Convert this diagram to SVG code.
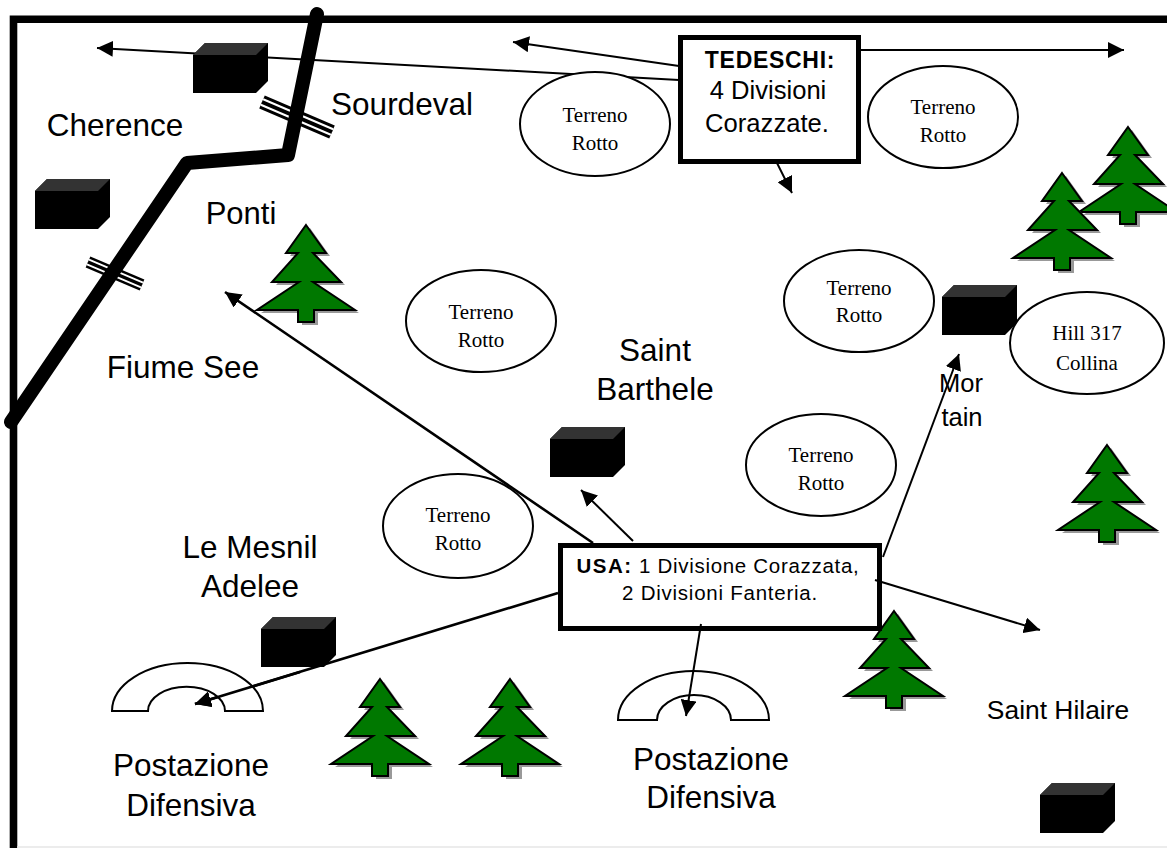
<svg xmlns="http://www.w3.org/2000/svg" width="1167" height="848" viewBox="0 0 1167 848">
<style>
text{font-family:"Liberation Sans",Arial,sans-serif;fill:#000;text-anchor:middle}
.l{font-size:31.500px}
.t{font-family:"Liberation Serif","Times New Roman",serif;font-size:21px}
.el{fill:#fff;stroke:#000;stroke-width:2}
.c{stroke:#000;stroke-width:2;fill:none;marker-end:url(#a)}
.h{stroke-width:2.600}
.arch{fill:#fff;stroke:#000;stroke-width:2}
.box{fill:#fff;stroke:#000;stroke-width:5}
</style>
<defs>
<marker id="a" markerUnits="userSpaceOnUse" markerWidth="18" markerHeight="16" refX="16" refY="8" orient="auto"><path d="M0 0L16 8L0 16Z" fill="#000"/></marker>
<g id="tree">
<path d="M0 0L20 28H7L35 57H7L49 85H8V97H-8V85H-49L-7 57H-34L-8 28H-20Z" fill="#999" transform="translate(4,3)"/>
<path d="M0 0L20 28H7L35 57H7L49 85H8V97H-8V85H-49L-7 57H-34L-8 28H-20Z" fill="#007800" stroke="#000" stroke-width="2"/>
</g>
<g id="block">
<path d="M0 12L12 0H75V38L63 50H0Z" fill="#000"/>
<path d="M0 12L12 0H75L63 12Z" fill="#333"/>
</g>
</defs>
<g id="frame"><path d="M13.500 848V19.300H1167" fill="none" stroke="#000" stroke-width="7.600"/><path d="M17 847H1167" stroke="#e6e6e6" stroke-width="1.500"/></g>
<g id="connectors">
<path class="c" d="M679 80L97 48"/>
<path class="c" d="M679 66L513 42"/>
<path class="c" d="M860 50H1124"/>
<path class="c" d="M777 163L792 193"/>
<path class="c h" d="M593 543L225 292"/>
<path class="c" d="M633 541L581 490"/>
<path class="c" d="M883 557L959 354"/>
<path class="c h" d="M558 593L195 704"/>
</g>
<g id="block1"><use href="#block" x="193" y="43"/></g>
<g id="block2"><use href="#block" x="35" y="179"/></g>
<g id="block3"><use href="#block" x="942" y="285"/></g>
<g id="block4"><use href="#block" x="550" y="427"/></g>
<g id="block5"><use href="#block" x="261" y="617"/></g>
<g id="block6"><use href="#block" x="1040" y="783"/></g>
<g id="bridge1"><path d="M262 102L332 132" stroke="#000" stroke-width="14"/><path d="M262 102L332 132" stroke="#fff" stroke-width="8"/><path d="M262 102L332 132" stroke="#000" stroke-width="4"/></g>
<g id="bridge2"><path d="M88 262L142 285" stroke="#000" stroke-width="12"/><path d="M88 262L142 285" stroke="#fff" stroke-width="7"/><path d="M88 262L142 285" stroke="#000" stroke-width="3.500"/></g>
<g id="river"><path d="M317 14L288 155L187 163L11 422" fill="none" stroke="#000" stroke-width="14" stroke-linecap="round" stroke-linejoin="round"/></g>
<g id="tree1"><use href="#tree" x="306" y="225"/></g>
<g id="tree2"><use href="#tree" x="1128" y="127"/></g>
<g id="tree3"><use href="#tree" x="1062" y="173"/></g>
<g id="tree4"><use href="#tree" x="1107" y="445"/></g>
<g id="tree5"><use href="#tree" x="894" y="611"/></g>
<g id="tree6"><use href="#tree" x="380" y="679"/></g>
<g id="tree7"><use href="#tree" x="510" y="679"/></g>
<g id="e1"><ellipse class="el" cx="595" cy="124" rx="75" ry="52"/><text class="t" x="595" y="122">Terreno</text><text class="t" x="595" y="150">Rotto</text></g>
<g id="e2"><ellipse class="el" cx="943" cy="117" rx="75" ry="51"/><text class="t" x="943" y="114">Terreno</text><text class="t" x="943" y="142">Rotto</text></g>
<g id="e3"><ellipse class="el" cx="481" cy="321" rx="75" ry="51"/><text class="t" x="481" y="319">Terreno</text><text class="t" x="481" y="347">Rotto</text></g>
<g id="e4"><ellipse class="el" cx="859" cy="301" rx="75" ry="51"/><text class="t" x="859" y="295">Terreno</text><text class="t" x="859" y="322">Rotto</text></g>
<g id="e5"><ellipse class="el" cx="821" cy="465" rx="75" ry="51"/><text class="t" x="821" y="462">Terreno</text><text class="t" x="821" y="490">Rotto</text></g>
<g id="e6"><ellipse class="el" cx="458" cy="526" rx="75" ry="52"/><text class="t" x="458" y="522">Terreno</text><text class="t" x="458" y="550">Rotto</text></g>
<g id="hill"><ellipse class="el" cx="1087" cy="343" rx="77" ry="51"/><text class="t" x="1087" y="340">Hill 317</text><text class="t" x="1087" y="370">Collina</text></g>
<g id="arch1"><path class="arch" d="M112 711A75.500 48 0 0 1 263 711H225A38 24 0 0 0 148 711Z"/></g>
<g id="arch2"><path class="arch" d="M618 720A75.500 49 0 0 1 769 720H731A37 25 0 0 0 657 720Z"/></g>
<g id="tedeschi"><rect class="box" x="680.500" y="37.500" width="178" height="124"/><text x="770" y="68" style="font-size:23px;font-weight:bold;letter-spacing:.7px">TEDESCHI:</text><text x="768" y="99" style="font-size:25.600px">4 Divisioni</text><text x="767" y="132" style="font-size:25.600px">Corazzate.</text></g>
<g id="usa"><rect class="box" x="560.500" y="545.500" width="319" height="83"/><text x="718" y="573" style="font-size:20.500px;letter-spacing:.7px"><tspan style="font-weight:bold;letter-spacing:1.500px">USA:</tspan> 1 Divisione Corazzata,</text><text x="720" y="600" style="font-size:20.500px;letter-spacing:.75px">2 Divisioni Fanteria.</text></g>
<g id="arrows-over"><path class="c" d="M875 580L1040 630"/><path class="c" d="M701 624L686 716"/><path class="c h" d="M300 672L195 704"/></g>
<g id="labels">
<text class="l" x="115" y="136">Cherence</text>
<text class="l" x="402" y="115">Sourdeval</text>
<text class="l" x="241" y="224" style="font-size:31px">Ponti</text>
<text class="l" x="183" y="378">Fiume See</text>
<text class="l" x="655" y="361">Saint</text>
<text class="l" x="655" y="400">Barthele</text>
<text class="l" x="250" y="558">Le Mesnil</text>
<text class="l" x="250" y="597">Adelee</text>
<text class="l" x="191" y="776">Postazione</text>
<text class="l" x="191" y="816">Difensiva</text>
<text class="l" x="711" y="770">Postazione</text>
<text class="l" x="711" y="808">Difensiva</text>
<text x="1058" y="719" style="font-size:26.400px">Saint Hilaire</text>
<text x="961" y="392" style="font-size:25.500px">Mor</text>
<text x="962" y="426" style="font-size:25.500px">tain</text>
</g>
</svg>
